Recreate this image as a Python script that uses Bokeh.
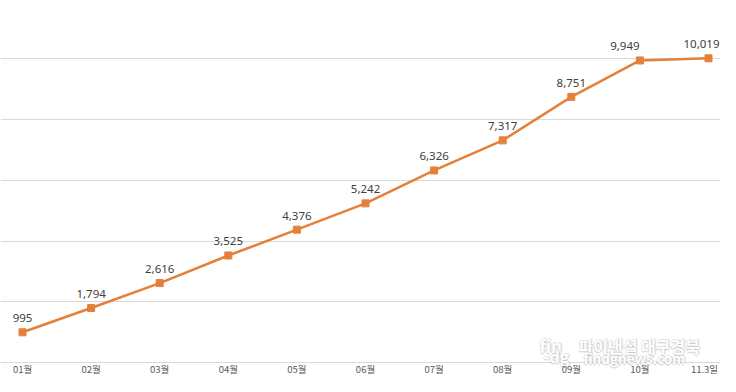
from bokeh.plotting import figure
from bokeh.models import ColumnDataSource, Range1d, FixedTicker, Label
from bokeh.core.properties import value
from bokeh.embed import file_html
from bokeh.resources import INLINE

categories = ["01월", "02월", "03월", "04월", "05월", "06월", "07월", "08월", "09월", "10월", "11.3일"]
values = [995, 1794, 2616, 3525, 4376, 5242, 6326, 7317, 8751, 9949, 10019]
label_texts = ["{:,}".format(v) for v in values]
grid_ticks = [0, 2000, 4000, 6000, 8000, 10000, 12000]

n = len(categories)
xs = list(range(n))
label_dx = [0] * n
label_dx[9] = -15
label_dx[10] = -7
cat_dx = [0] * n
cat_dx[10] = -4

src = ColumnDataSource(dict(x=xs, y=values, t=label_texts, dx=label_dx))
cat_src = ColumnDataSource(dict(x=xs, y=[0] * n, t=categories, dx=cat_dx))

p = figure(frame_width=720, frame_height=376, output_backend="svg", toolbar_location=None,
           x_range=Range1d(-0.321, 10.175), y_range=Range1d(-461, 11924),
           min_border=0, min_border_left=0, min_border_right=0, min_border_top=0,
           min_border_bottom=0,
           background_fill_color="white", border_fill_color="white", outline_line_color=None)

# watermark (drawn beneath the glyphs)
wm = [("fin", 539, 31, "17px"), ("파이낸셜 대구경북", 578, 31, "16px"),
      ("-dg", 543, 21, "16px"), ("findgnews.com", 583, 19, "13.5px")]
for txt, sx, sy, fs in wm:
    for ddx, ddy in [(-1, 0), (1, 0), (0, -1), (0, 1), (1, 1), (-1, -1), (2, 0), (0, -2)]:
        p.add_layout(Label(x=sx + ddx, y=sy + ddy, x_units="screen", y_units="screen", text=txt,
                           text_font="Noto Sans CJK KR", text_font_style="bold", text_font_size=fs,
                           text_baseline="alphabetic", text_color="#a0a0a0", text_alpha=0.16,
                           level="underlay"))
    p.add_layout(Label(x=sx, y=sy, x_units="screen", y_units="screen", text=txt,
                       text_font="Noto Sans CJK KR", text_font_style="bold", text_font_size=fs,
                       text_baseline="alphabetic", text_color="white", level="underlay"))

p.line("x", "y", source=src, line_color="#E5803A", line_width=2.5)
p.scatter("x", "y", source=src, marker="square", size=7, fill_color="#E5803A", line_color="#E5803A")
p.text("x", "y", text="t", source=src, x_offset="dx", y_offset=-10, text_align="center",
       text_baseline="bottom", text_font=value("Noto Sans"), text_font_size="11.5px",
       text_color="#404040")

# category labels under the baseline
p.text("x", "y", text="t", source=cat_src, x_offset="dx", y_offset=6, text_align="center",
       text_baseline="middle", text_font=value("Noto Sans CJK KR"), text_font_size="9.5px",
       text_color="#595959")

p.xaxis.visible = False
p.yaxis.visible = False
p.ygrid.ticker = FixedTicker(ticks=grid_ticks)
p.ygrid.grid_line_color = "#d9d9d9"
p.ygrid.grid_line_width = 1
p.xgrid.visible = False

open("out.html", "w").write(file_html(p, INLINE))
